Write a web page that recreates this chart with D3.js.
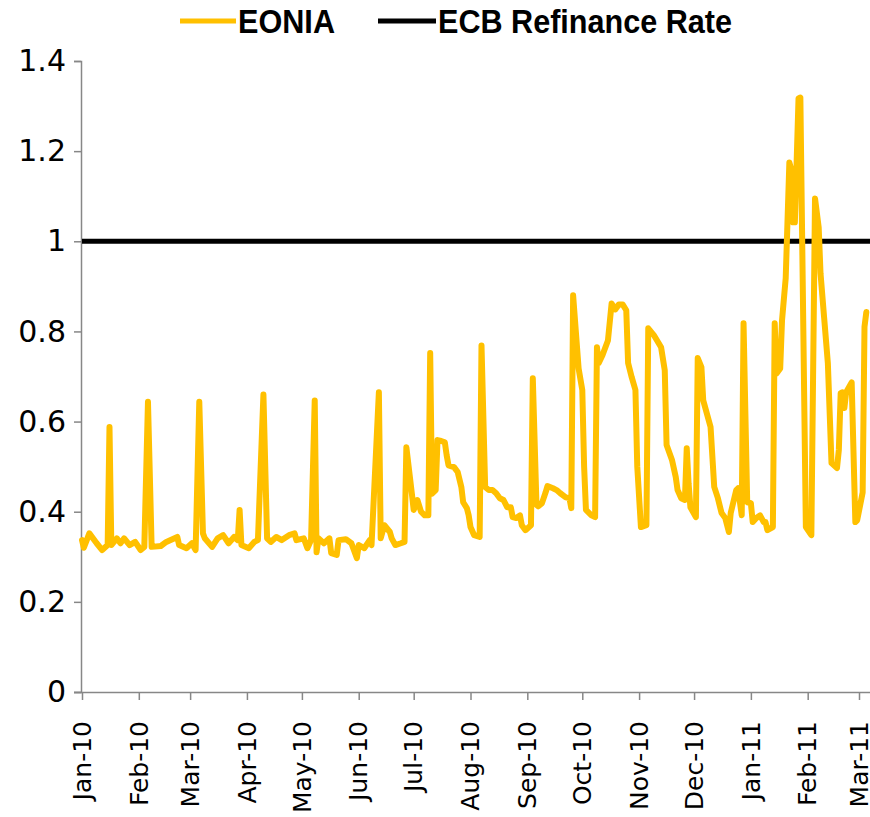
<!DOCTYPE html>
<html>
<head>
<meta charset="utf-8">
<script src="https://cdn.jsdelivr.net/npm/d3@7"></script>
<style>
  html, body { margin: 0; padding: 0; background: #fff; }
  svg { display: block; }
</style>
</head>
<body>
<svg id="chart" width="870" height="817"></svg>
<script>
// ---- Data ----
const seriesNames = ["EONIA", "ECB Refinance Rate"];
const eoniaDates = [
  "2010-01-01","2010-01-02","2010-01-05","2010-01-09","2010-01-12","2010-01-15","2010-01-16","2010-01-17",
  "2010-01-20","2010-01-22","2010-01-24","2010-01-27","2010-01-30","2010-02-02","2010-02-04","2010-02-06",
  "2010-02-08","2010-02-13","2010-02-16","2010-02-22","2010-02-23","2010-02-27","2010-03-02","2010-03-04",
  "2010-03-06","2010-03-08","2010-03-09","2010-03-13","2010-03-16","2010-03-19","2010-03-22","2010-03-25",
  "2010-03-27","2010-03-28","2010-03-29","2010-04-02","2010-04-05","2010-04-07","2010-04-10","2010-04-12",
  "2010-04-14","2010-04-17","2010-04-20","2010-04-24","2010-04-27","2010-04-28","2010-05-02","2010-05-04",
  "2010-05-06","2010-05-08","2010-05-09","2010-05-10","2010-05-13","2010-05-16","2010-05-17","2010-05-20",
  "2010-05-21","2010-05-25","2010-05-28","2010-05-31","2010-06-01","2010-06-04","2010-06-07","2010-06-08",
  "2010-06-12","2010-06-13","2010-06-15","2010-06-18","2010-06-19","2010-06-21","2010-06-24","2010-06-26",
  "2010-06-27","2010-06-30","2010-07-01","2010-07-03","2010-07-05","2010-07-07","2010-07-09","2010-07-10",
  "2010-07-11","2010-07-13","2010-07-14","2010-07-16","2010-07-18","2010-07-19","2010-07-20","2010-07-23",
  "2010-07-25","2010-07-27","2010-07-28","2010-07-30","2010-07-31","2010-08-01","2010-08-03","2010-08-06",
  "2010-08-07","2010-08-09","2010-08-11","2010-08-13","2010-08-15","2010-08-17","2010-08-19","2010-08-21",
  "2010-08-23","2010-08-24","2010-08-26","2010-08-28","2010-08-29","2010-08-31","2010-09-03","2010-09-04",
  "2010-09-06","2010-09-07","2010-09-09","2010-09-11","2010-09-12","2010-09-15","2010-09-17","2010-09-19",
  "2010-09-22","2010-09-24","2010-09-25","2010-09-26","2010-09-29","2010-10-01","2010-10-02","2010-10-03",
  "2010-10-06","2010-10-08","2010-10-09","2010-10-10","2010-10-12","2010-10-15","2010-10-17","2010-10-19",
  "2010-10-21","2010-10-23","2010-10-25","2010-10-26","2010-10-28","2010-10-30","2010-10-31","2010-11-02",
  "2010-11-05","2010-11-06","2010-11-09","2010-11-13","2010-11-15","2010-11-16","2010-11-19","2010-11-21",
  "2010-11-22","2010-11-24","2010-11-26","2010-11-27","2010-11-28","2010-11-29","2010-12-02","2010-12-03",
  "2010-12-05","2010-12-06","2010-12-10","2010-12-12","2010-12-14","2010-12-16","2010-12-18","2010-12-20",
  "2010-12-21","2010-12-24","2010-12-25","2010-12-27","2010-12-28","2010-12-29","2010-12-30","2011-01-01",
  "2011-01-02","2011-01-04","2011-01-06","2011-01-08","2011-01-09","2011-01-10","2011-01-13","2011-01-14",
  "2011-01-15","2011-01-17","2011-01-18","2011-01-20","2011-01-22","2011-01-23","2011-01-24","2011-01-25",
  "2011-01-27","2011-01-28","2011-01-31","2011-02-03","2011-02-05","2011-02-07","2011-02-08","2011-02-10",
  "2011-02-12","2011-02-14","2011-02-17","2011-02-18","2011-02-19","2011-02-20","2011-02-21","2011-02-22",
  "2011-02-25","2011-02-27","2011-02-28","2011-03-03","2011-03-04","2011-03-05"
];
const eoniaValues = [
  0.337,0.320,0.352,0.330,0.315,0.326,0.588,0.326,
  0.341,0.330,0.341,0.326,0.333,0.315,0.322,0.644,
  0.322,0.324,0.333,0.344,0.326,0.319,0.330,0.315,
  0.644,0.352,0.341,0.322,0.341,0.348,0.330,0.344,
  0.337,0.404,0.326,0.319,0.333,0.337,0.660,0.341,
  0.333,0.344,0.337,0.348,0.352,0.337,0.341,0.319,
  0.337,0.647,0.310,0.341,0.330,0.341,0.308,0.304,
  0.337,0.339,0.330,0.297,0.326,0.319,0.337,0.326,
  0.665,0.341,0.370,0.355,0.341,0.326,0.330,0.333,
  0.543,0.440,0.404,0.426,0.400,0.392,0.392,0.752,
  0.440,0.448,0.559,0.557,0.554,0.525,0.503,0.499,
  0.488,0.455,0.421,0.408,0.392,0.366,0.348,0.344,
  0.769,0.455,0.448,0.448,0.441,0.430,0.426,0.410,
  0.410,0.388,0.386,0.392,0.370,0.359,0.370,0.696,
  0.415,0.412,0.419,0.443,0.457,0.452,0.448,0.441,
  0.432,0.430,0.408,0.880,0.718,0.670,0.500,0.404,
  0.392,0.388,0.765,0.730,0.747,0.780,0.862,0.849,
  0.860,0.860,0.847,0.730,0.698,0.670,0.500,0.366,
  0.370,0.807,0.792,0.765,0.714,0.548,0.514,0.477,
  0.448,0.430,0.426,0.541,0.463,0.410,0.388,0.741,
  0.721,0.647,0.588,0.455,0.430,0.397,0.386,0.355,
  0.397,0.448,0.452,0.392,0.818,0.618,0.421,0.419,
  0.377,0.386,0.392,0.377,0.377,0.359,0.366,0.818,
  0.707,0.718,0.825,0.918,1.175,1.160,1.042,1.042,
  1.317,1.319,0.366,0.348,1.095,1.031,0.929,0.829,
  0.730,0.508,0.497,0.537,0.663,0.665,0.630,0.665,
  0.687,0.377,0.381,0.443,0.810,0.843
];
const ecbDates = ["2010-01-01", "2011-03-07"];
const ecbValues = [1, 1];
const yTickValues = [0, 0.2, 0.4, 0.6, 0.8, 1, 1.2, 1.4];
const xTickDates = ["2010-01-01","2010-02-01","2010-03-01","2010-04-01","2010-05-01","2010-06-01",
  "2010-07-01","2010-08-01","2010-09-01","2010-10-01","2010-11-01","2010-12-01",
  "2011-01-01","2011-02-01","2011-03-01"];

// ---- Build ----
const parse = d3.utcParse("%Y-%m-%d");
const eonia = eoniaDates.map((d, i) => ({ date: parse(d), value: eoniaValues[i] }));
const ecb = ecbDates.map((d, i) => ({ date: parse(d), value: ecbValues[i] }));
const xTicks = xTickDates.map(parse);

const svg = d3.select("#chart");
const x = d3.scaleUtc()
  .domain([parse("2010-01-01"), parse("2011-03-01")])
  .range([82, 859]);
const y = d3.scaleLinear().domain([0, 1.4]).range([692, 61]);

const axisColor = "#878787";

// Y axis
const yAxis = svg.append("g")
  .attr("transform", "translate(81,0)")
  .call(d3.axisLeft(y).tickValues(yTickValues).tickSize(7).tickPadding(8)
    .tickFormat(d3.format("~g")));
yAxis.select(".domain").attr("stroke", axisColor).attr("stroke-width", 1.5);
yAxis.selectAll(".tick line").attr("stroke", axisColor).attr("stroke-width", 1.5);
yAxis.selectAll(".tick text")
  .attr("font-family", "DejaVu Sans, sans-serif")
  .attr("font-size", 30)
  .attr("fill", "#000");

// X axis
const xAxis = svg.append("g")
  .attr("transform", "translate(0,692)")
  .call(d3.axisBottom(x).tickValues(xTicks).tickSize(8)
    .tickFormat(d3.utcFormat("%b-%y")));
xAxis.select(".domain").attr("stroke", axisColor).attr("stroke-width", 1.5)
  .attr("d", "M74,0.5H870");
xAxis.selectAll(".tick line").attr("stroke", axisColor).attr("stroke-width", 1.5);
xAxis.selectAll(".tick text")
  .attr("font-family", "DejaVu Sans, sans-serif")
  .attr("font-size", 25)
  .attr("fill", "#000")
  .attr("text-anchor", "end")
  .attr("dy", "0.33em")
  .attr("transform", "rotate(-90)")
  .attr("x", -29)
  .attr("y", 0);

// Lines
const line = d3.line().x(d => x(d.date)).y(d => y(d.value));

svg.append("path")
  .datum(ecb)
  .attr("fill", "none")
  .attr("stroke", "#000")
  .attr("stroke-width", 5)
  .attr("d", line);

svg.append("path")
  .datum(eonia)
  .attr("fill", "none")
  .attr("stroke", "#FFC000")
  .attr("stroke-width", 6)
  .attr("stroke-linejoin", "round")
  .attr("stroke-linecap", "round")
  .attr("d", line);

// Legend
const legend = svg.append("g").attr("font-family", "Liberation Sans Narrow, Arial Narrow, sans-serif")
  .attr("font-weight", "bold").attr("font-size", 33);
const legendItems = [
  { name: seriesNames[0], color: "#FFC000", x1: 180, x2: 236, tx: 238, len: 97 },
  { name: seriesNames[1], color: "#000", x1: 378, x2: 436, tx: 438, len: 294 }
];
legendItems.forEach(it => {
  legend.append("line").attr("x1", it.x1).attr("x2", it.x2).attr("y1", 21).attr("y2", 21)
    .attr("stroke", it.color).attr("stroke-width", 5);
  legend.append("text").attr("x", it.tx).attr("y", 33).text(it.name)
    .attr("textLength", it.len).attr("lengthAdjust", "spacingAndGlyphs");
});
</script>
</body>
</html>
